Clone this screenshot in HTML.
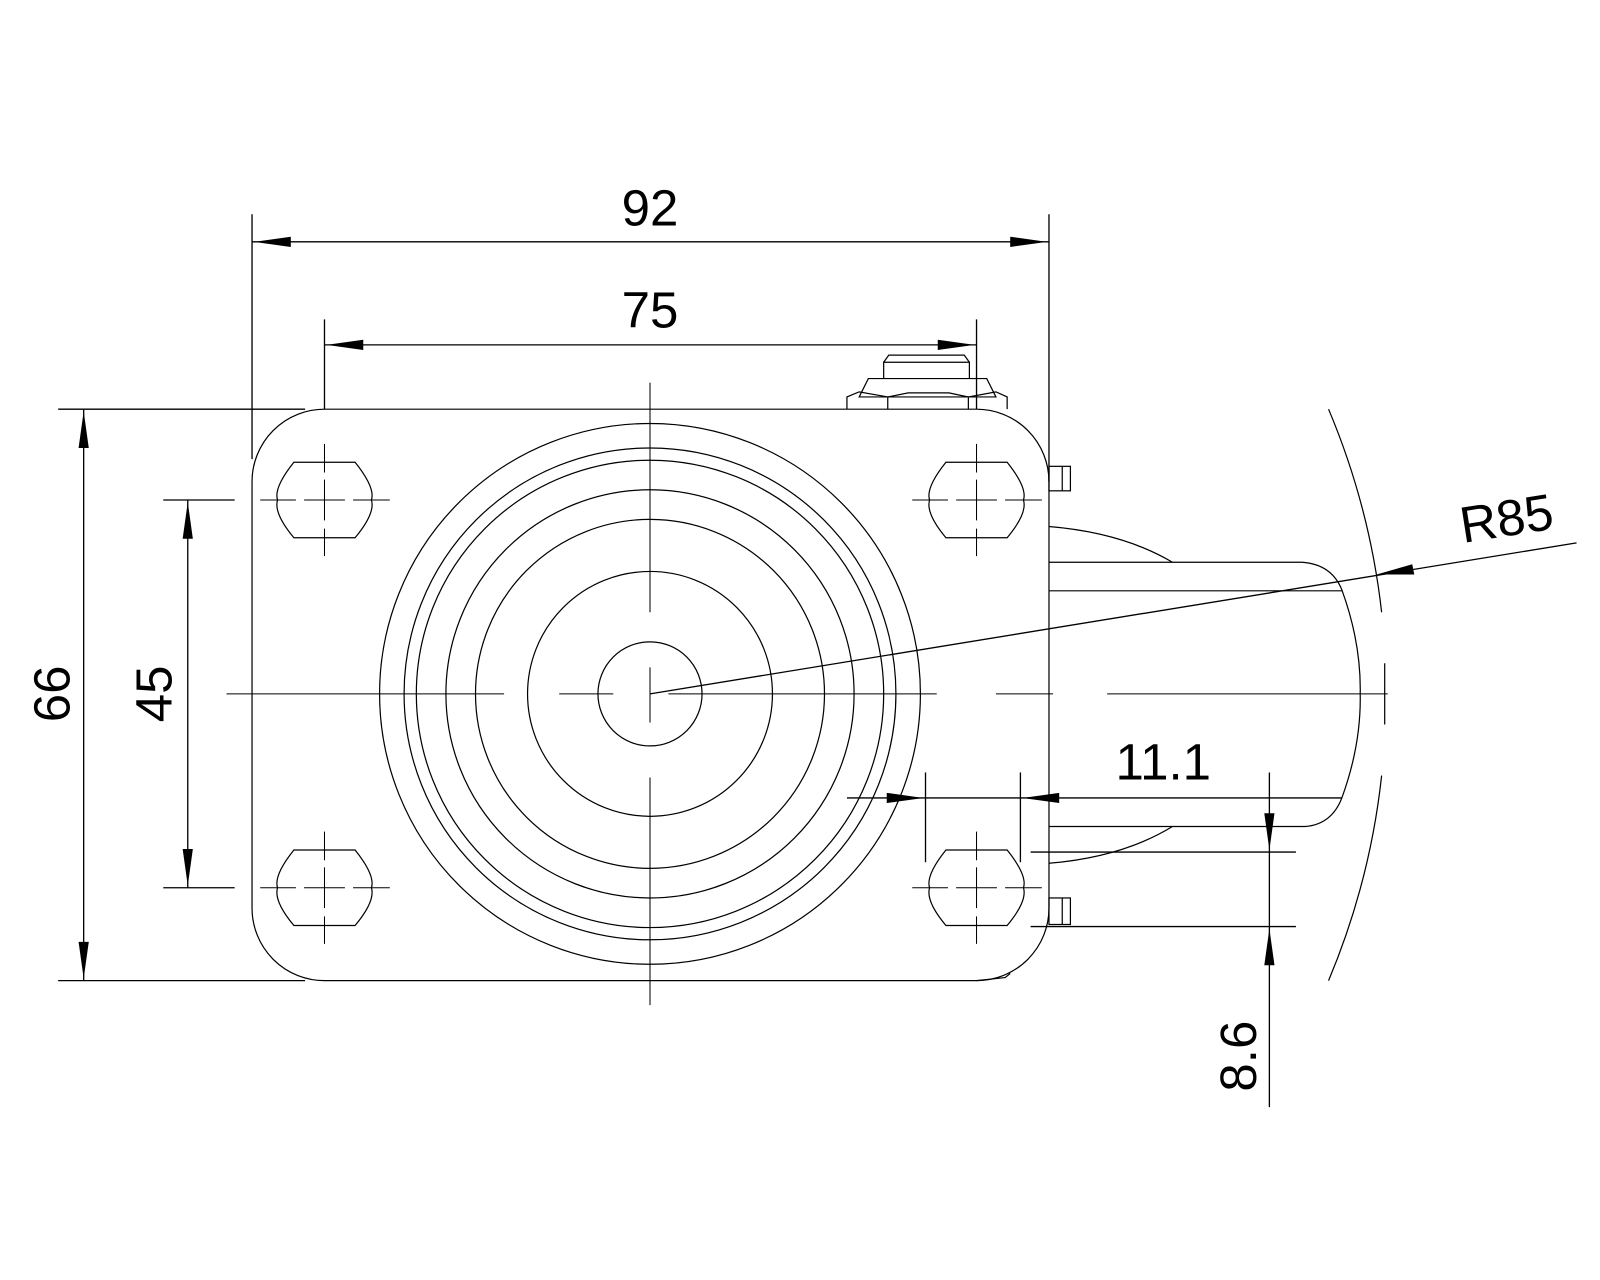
<!DOCTYPE html>
<html><head><meta charset="utf-8"><style>
html,body{margin:0;padding:0;background:#fff;}
svg{display:block;}
text{font-family:"Liberation Sans",Arial,sans-serif;fill:#000;}
</style></head><body>
<svg width="1600" height="1280" viewBox="0 0 1568 1254.4" xmlns="http://www.w3.org/2000/svg">
<rect x="0" y="0" width="1568" height="1255" fill="#fff"/>
<g fill="none" stroke="#000" stroke-width="1.2">
<!-- plate -->
<path d="M318 401 L957 401 A71 71 0 0 1 1028 472 L1028 890 A71 71 0 0 1 957 961 L318 961 A71 71 0 0 1 247 890 L247 472 A71 71 0 0 1 318 401 Z"/>
<!-- holes -->
<g id="h">
<path d="M288 453 L348 453 Q368 478 364 490 Q368 503 348 527 L288 527 Q268 503 272 490 Q268 478 288 453 Z"/>
</g>
<use href="#h" x="639" y="0"/>
<use href="#h" x="0" y="380"/>
<use href="#h" x="639" y="380"/>
<!-- circles -->
<circle cx="637" cy="680" r="265"/>
<circle cx="637" cy="680" r="241"/>
<circle cx="637" cy="680" r="229"/>
<circle cx="637" cy="680" r="200"/>
<circle cx="637" cy="680" r="171"/>
<circle cx="637" cy="680" r="120"/>
<circle cx="637" cy="680" r="51"/>
<!-- nut -->
<path d="M866 371 L866 355 L950 355 L950 371"/>
<path d="M866 355 L871 348 L945 348 L950 355"/>
<path d="M842 389 L851 371 L967 371 L976 389 Z"/>
<path d="M830 401 L830 389 L842 384 L870 389 L890 385 L930 385 L949 389 L976 384 L987 389 L987 401 M870 389 L870 401 M949 389 L949 401"/>
<!-- tabs -->
<rect x="1028" y="457" width="21" height="24"/><line x1="1041" y1="457" x2="1041" y2="481"/>
<rect x="1028" y="880" width="21" height="26"/><line x1="1041" y1="880" x2="1041" y2="906"/>
<!-- fork -->
<path d="M1028 516 Q1100 522 1149 551"/>
<path d="M1028 846 Q1100 840 1149 810"/>
<path d="M1028 551 L1276 551 Q1305 553 1315 578 Q1334 630 1333 680 Q1334 730 1315 782 Q1305 808 1279 810 L1028 810"/>
<line x1="1028" y1="579" x2="1315" y2="579"/>
<!-- small bottom part -->
<path d="M957 961 L985 958 L990 954"/>
<!-- R85 arc -->
<path d="M1302 401 A720 720 0 0 1 1354 600"/>
<path d="M1354 760 A720 720 0 0 1 1302 961"/>
<line x1="1357" y1="650" x2="1357" y2="710"/>
</g>
<!-- center lines -->
<g fill="none" stroke="#000" stroke-width="1">
<path d="M222 680 L494 680 M548 680 L601 680 M655 680 L918 680 M976 680 L1032 680 M1085 680 L1360 680"/>
<path d="M637 375 L637 600 M637 654 L637 708 M637 762 L637 985"/>
<g id="cl"><path d="M255 490 L290 490 M298 490 L338 490 M346 490 L382 490 M318 435 L318 463 M318 470 L318 510 M318 518 L318 545"/></g>
<use href="#cl" x="639" y="0"/>
<use href="#cl" x="0" y="380"/>
<use href="#cl" x="639" y="380"/>
</g>
<!-- dimension lines -->
<g fill="none" stroke="#000" stroke-width="1.3">
<line x1="247" y1="210" x2="247" y2="450"/>
<line x1="1028" y1="210" x2="1028" y2="472"/>
<line x1="247" y1="237" x2="1028" y2="237"/>
<line x1="318" y1="313" x2="318" y2="401"/>
<line x1="957" y1="313" x2="957" y2="401"/>
<line x1="318" y1="338" x2="957" y2="338"/>
<line x1="57" y1="401" x2="299" y2="401"/>
<line x1="57" y1="961" x2="299" y2="961"/>
<line x1="82" y1="401" x2="82" y2="961"/>
<line x1="160" y1="490" x2="230" y2="490"/>
<line x1="160" y1="870" x2="230" y2="870"/>
<line x1="184" y1="490" x2="184" y2="870"/>
<line x1="907" y1="757" x2="907" y2="845"/>
<line x1="1000" y1="757" x2="1000" y2="845"/>
<line x1="830" y1="782" x2="1315" y2="782"/>
<line x1="1010" y1="835" x2="1270" y2="835"/>
<line x1="1010" y1="908" x2="1270" y2="908"/>
<line x1="1244" y1="757" x2="1244" y2="1085"/>
<line x1="637" y1="680" x2="1545" y2="532"/>
</g>
<!-- arrowheads -->
<g fill="#000">
<polygon points="249,237 285,232 285,242"/>
<polygon points="1026,237 990,232 990,242"/>
<polygon points="320,338 356,333 356,343"/>
<polygon points="955,338 919,333 919,343"/>
<polygon points="82,403 77,439 87,439"/>
<polygon points="82,959 77,923 87,923"/>
<polygon points="184,492 179,528 189,528"/>
<polygon points="184,868 179,832 189,832"/>
<polygon points="905,782 869,777 869,787"/>
<polygon points="1002,782 1038,777 1038,787"/>
<polygon points="1244,833 1239,797 1249,797"/>
<polygon points="1244,910 1239,946 1249,946"/>
<polygon points="1349,563 1384,553 1386,563"/>
</g>
<!-- text -->
<g font-size="50">
<text x="637" y="221" text-anchor="middle">92</text>
<text x="637" y="321" text-anchor="middle">75</text>
<text x="1140" y="764" text-anchor="middle">11.1</text>
<text transform="translate(68,680) rotate(-90)" text-anchor="middle">66</text>
<text transform="translate(168,680) rotate(-90)" text-anchor="middle">45</text>
<text transform="translate(1231,1035) rotate(-90)" text-anchor="middle">8.6</text>
<text transform="translate(1479,525) rotate(-9)" text-anchor="middle">R85</text>
</g>
</svg>
</body></html>
